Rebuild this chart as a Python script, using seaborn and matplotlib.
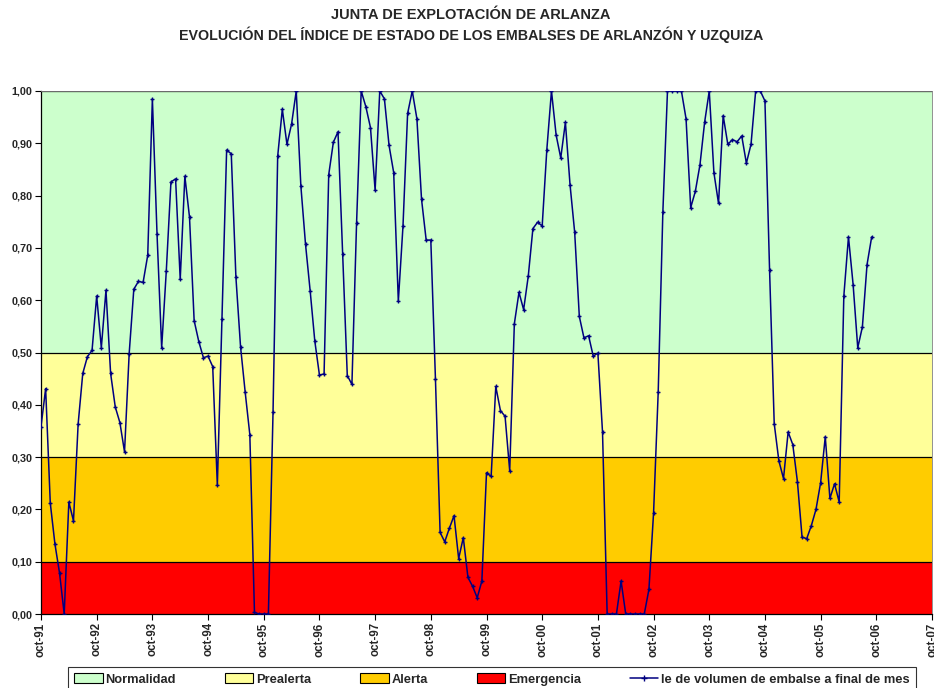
import numpy as np
import pandas as pd
import matplotlib
matplotlib.use("Agg")
import matplotlib.pyplot as plt
from matplotlib.patches import Patch
from matplotlib.lines import Line2D
import seaborn as sns

# monthly index values, oct-91 .. sep-06
indice = [
    0.358, 0.431, 0.212, 0.134, 0.078, 0.0, 0.214, 0.178, 0.363, 0.46, 0.492, 0.504,
    0.608, 0.509, 0.619, 0.46, 0.396, 0.366, 0.31, 0.498, 0.621, 0.636, 0.634, 0.686,
    0.985, 0.727, 0.509, 0.656, 0.826, 0.832, 0.64, 0.837, 0.759, 0.561, 0.521, 0.49,
    0.493, 0.473, 0.246, 0.565, 0.887, 0.88, 0.644, 0.511, 0.424, 0.343, 0.003, 0.0,
    0.0, 0.0, 0.386, 0.875, 0.965, 0.898, 0.937, 1.0, 0.818, 0.707, 0.618, 0.522,
    0.457, 0.459, 0.84, 0.902, 0.922, 0.689, 0.456, 0.439, 0.747, 1.0, 0.97, 0.93,
    0.81, 1.0, 0.985, 0.896, 0.844, 0.598, 0.741, 0.957, 1.0, 0.947, 0.793, 0.715,
    0.715, 0.449, 0.156, 0.138, 0.164, 0.188, 0.106, 0.146, 0.07, 0.053, 0.031, 0.063,
    0.27, 0.263, 0.435, 0.389, 0.378, 0.274, 0.555, 0.615, 0.582, 0.646, 0.737, 0.749,
    0.742, 0.888, 1.0, 0.916, 0.872, 0.94, 0.821, 0.73, 0.569, 0.528, 0.532, 0.493,
    0.499, 0.348, 0.0, 0.0, 0.0, 0.063, 0.0, 0.0, 0.0, 0.0, 0.0, 0.047,
    0.193, 0.424, 0.768, 1.0, 1.0, 1.0, 1.0, 0.947, 0.777, 0.808, 0.859, 0.94,
    1.0, 0.844, 0.785, 0.953, 0.898, 0.907, 0.903, 0.914, 0.862, 0.898, 1.0, 1.0,
    0.981, 0.657, 0.364, 0.293, 0.259, 0.348, 0.324, 0.253, 0.147, 0.144, 0.169, 0.2,
    0.251, 0.339, 0.221, 0.249, 0.214, 0.608, 0.721, 0.63, 0.509, 0.549, 0.668, 0.721,
]
tick_labels = ["oct-91", "oct-92", "oct-93", "oct-94", "oct-95", "oct-96", "oct-97", "oct-98",
               "oct-99", "oct-00", "oct-01", "oct-02", "oct-03", "oct-04", "oct-05", "oct-06", "oct-07"]

zonas = ["Normalidad", "Prealerta", "Alerta", "Emergencia"]
limites_inf = [0.5, 0.3, 0.1, 0.0]
limites_sup = [1.0, 0.5, 0.3, 0.1]
colores = ["#CCFFCC", "#FFFF99", "#FFCC00", "#FF0000"]
serie_label = "le de volumen de embalse a final de mes"

df = pd.DataFrame({"mes": np.arange(len(indice)), "indice": indice})

sns.set_style("white")
plt.rcParams["font.family"] = ["Liberation Sans", "DejaVu Sans"]
plt.rcParams["font.weight"] = "bold"

fig = plt.figure(figsize=(9.34, 6.88), dpi=100)
ax = fig.add_axes([41 / 934, 1 - 614 / 688, (932 - 41) / 934, (614 - 91) / 688])

for lo, hi, c in zip(limites_inf, limites_sup, colores):
    ax.axhspan(lo, hi, color=c, zorder=0, lw=0)
for y in limites_sup:
    ax.axhline(y, color="black", lw=0.9, zorder=1)

navy = "#000080"
sns.lineplot(data=df, x="mes", y="indice", ax=ax, color=navy, lw=1.1,
             marker="+", markersize=3.5, markeredgewidth=1.0,
             markeredgecolor=navy, markerfacecolor=navy, zorder=3)

n_months = 12 * (len(tick_labels) - 1)
ax.set_xlim(0, n_months)
ax.set_ylim(0, 1)
ax.set_xticks(np.arange(0, n_months + 1, 12))
ax.set_xticklabels(tick_labels, rotation=90, fontsize=8.3, fontweight="bold")
ax.set_yticks(np.arange(0, 1.01, 0.1))
ax.set_yticklabels([f"{v:.2f}".replace(".", ",") for v in np.arange(0, 1.01, 0.1)],
                   fontsize=7.8, fontweight="bold")
ax.tick_params(axis="both", direction="out", length=4, width=0.8, color="black", pad=2,
               bottom=True, left=True)
ax.set_xlabel("")
ax.set_ylabel("")
for side in ["left", "bottom"]:
    ax.spines[side].set_color("black")
    ax.spines[side].set_linewidth(0.9)
for side in ["top", "right"]:
    ax.spines[side].set_color("#808080")
    ax.spines[side].set_linewidth(0.6)

fig.text(0.504, 1 - 15 / 688, "JUNTA DE EXPLOTACIÓN DE ARLANZA", ha="center", va="center",
         fontsize=10.5, fontweight="bold")
fig.text(0.504, 1 - 35 / 688, "EVOLUCIÓN DEL ÍNDICE DE ESTADO DE LOS EMBALSES DE ARLANZÓN Y UZQUIZA",
         ha="center", va="center", fontsize=10.3, fontweight="bold")

handles = [Patch(facecolor=c, edgecolor="black", lw=0.8) for c in colores]
handles.append(Line2D([0], [0], color=navy, lw=1.1, marker="+", markersize=4))
leg = fig.legend(handles, zonas + [serie_label], loc="upper left",
                 bbox_to_anchor=(68 / 934, 1 - 667 / 688, (916 - 68) / 934, 0),
                 mode="expand", ncol=5, frameon=True, fancybox=False,
                 prop={"weight": "bold", "size": 9.3}, handlelength=2.2, handleheight=0.8,
                 handletextpad=0.2, borderaxespad=0, borderpad=0.5, columnspacing=1.0)
leg.get_frame().set_edgecolor("black")
leg.get_frame().set_linewidth(0.8)

fig.savefig("out.png", dpi=100)
